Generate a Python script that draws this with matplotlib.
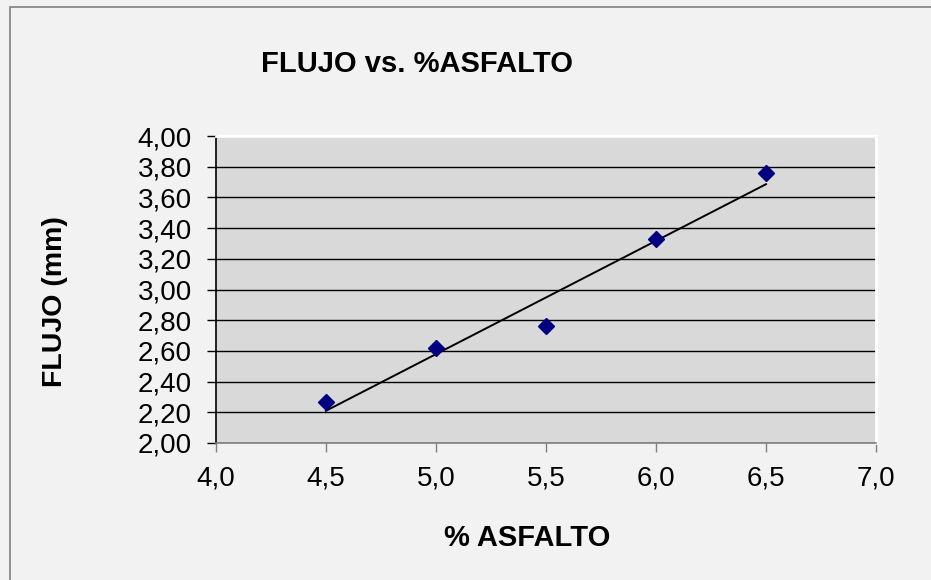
import matplotlib.pyplot as plt
import numpy as np
from matplotlib.patches import Rectangle
from matplotlib.ticker import MultipleLocator, FuncFormatter

plt.rcParams['font.family'] = ['Liberation Sans', 'DejaVu Sans']

asfalto = [4.5, 5.0, 5.5, 6.0, 6.5]
flujo = [2.27, 2.62, 2.76, 3.33, 3.76]

W, H = 931, 580
fig = plt.figure(figsize=(W / 100, H / 100), dpi=100)
fig.patch.set_facecolor('#f2f2f2')

# chart border (top and left visible)
fig.add_artist(Rectangle((9.5 / W, -0.05), 1.1, 1.05 - 6.5 / H, transform=fig.transFigure,
                         fill=False, edgecolor='#808080', linewidth=1.2))

ax = fig.add_axes([216 / W, 1 - 443 / H, (876 - 216) / W, (443 - 136) / H])
ax.set_facecolor('#d9d9d9')

ax.set_xlim(4.0, 7.0)
ax.set_ylim(2.0, 4.0)
ax.xaxis.set_major_locator(MultipleLocator(0.5))
ax.yaxis.set_major_locator(MultipleLocator(0.2))
ax.xaxis.set_major_formatter(FuncFormatter(lambda v, p: f"{v:.1f}".replace('.', ',')))
ax.yaxis.set_major_formatter(FuncFormatter(lambda v, p: f"{v:.2f}".replace('.', ',')))

ax.grid(axis='y', color='black', linewidth=1.0)
ax.set_axisbelow(True)

for s in ['top', 'right']:
    ax.spines[s].set_color('white')
    ax.spines[s].set_linewidth(2)
ax.spines['left'].set_color('black')
ax.spines['left'].set_linewidth(1.2)
ax.spines['bottom'].set_color('#808080')
ax.spines['bottom'].set_linewidth(1.2)

ax.tick_params(axis='y', direction='out', length=6.5, width=1, colors='black',
               labelsize=20, pad=11)
ax.tick_params(axis='x', direction='out', length=6.5, width=1, color='#808080',
               labelcolor='black', labelsize=20, pad=10)

# trendline
m, b = np.polyfit(asfalto, flujo, 1)
xs = np.array([min(asfalto), max(asfalto)])
ax.plot(xs, m * xs + b, color='black', linewidth=1.4, zorder=3)

ax.plot(asfalto, flujo, linestyle='none', marker='D', markersize=8.5,
        color='#000080', zorder=4)

fig.text(417 / W, 1 - 64 / H, 'FLUJO vs. %ASFALTO', ha='center', va='center',
         fontsize=21, fontweight='bold')
fig.text(527 / W, 1 - 538 / H, '% ASFALTO', ha='center', va='center',
         fontsize=21, fontweight='bold')
fig.text(55 / W, 1 - 302 / H, 'FLUJO (mm)', ha='center', va='center',
         fontsize=20.5, fontweight='bold', rotation=90)

fig.savefig('out.png', dpi=100, facecolor=fig.get_facecolor())
